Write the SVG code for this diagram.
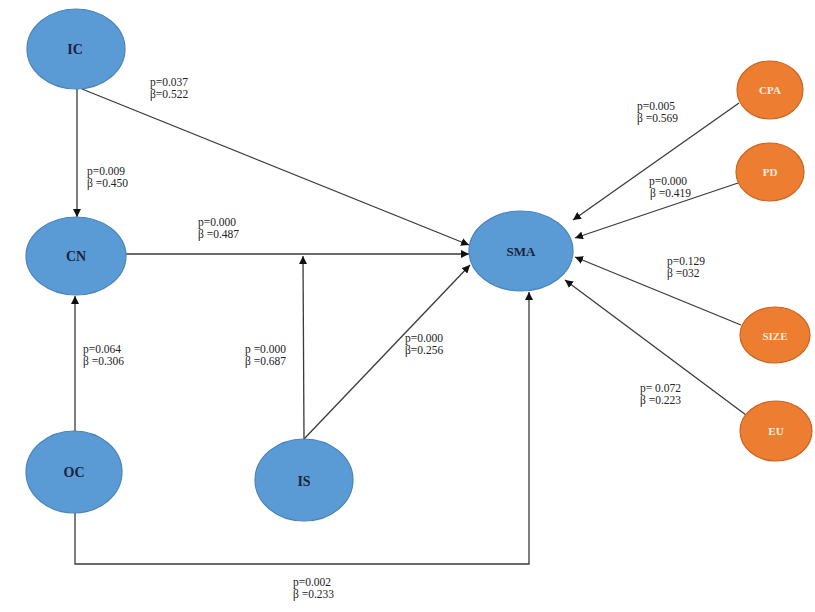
<svg xmlns="http://www.w3.org/2000/svg" width="815" height="612" viewBox="0 0 815 612">
<style>
.b{fill:#5B9BD5;stroke:#4A83B8;stroke-width:1.2}
.o{fill:#ED7D31;stroke:#C9651F;stroke-width:1.2}
.bl{font-family:"Liberation Serif",serif;font-size:14px;font-weight:bold;fill:#1a2340;text-anchor:middle;dominant-baseline:central}
.ol{font-family:"Liberation Serif",serif;font-size:11px;font-weight:bold;fill:#FCEBDD;text-anchor:middle;dominant-baseline:central}
.c{fill:none;stroke:#3a3a3a;stroke-width:1.3}
.t{font-family:"Liberation Serif",serif;font-size:11.5px;fill:#222}
</style>
<defs>
<marker id="a" viewBox="0 0 10 10" refX="10" refY="5" markerWidth="8" markerHeight="8" markerUnits="userSpaceOnUse" orient="auto">
<path d="M0,0 L10,5 L0,10 Z" fill="#111"/>
</marker>
</defs>
<g id="connectors">
<path class="c" d="M77,89 L77,217" marker-end="url(#a)"/>
<path class="c" d="M82,89 L469,245" marker-end="url(#a)"/>
<path class="c" d="M126,254 L469,254" marker-end="url(#a)"/>
<path class="c" d="M75,432 L75,296" marker-end="url(#a)"/>
<path class="c" d="M304,439 L303,256" marker-end="url(#a)"/>
<path class="c" d="M304,439 L470,265" marker-end="url(#a)"/>
<path class="c" d="M75,513 L75,564 L529,564 L529,292" marker-end="url(#a)"/>
<path class="c" d="M739,103 L573,220" marker-end="url(#a)"/>
<path class="c" d="M738,183 L575,238" marker-end="url(#a)"/>
<path class="c" d="M741,325 L575,257" marker-end="url(#a)"/>
<path class="c" d="M746,415 L565,280" marker-end="url(#a)"/>
</g>
<g id="labels">
<text class="t" x="150" y="86">p=0.037</text><text class="t" x="150" y="98">β=0.522</text>
<text class="t" x="87" y="175">p=0.009</text><text class="t" x="87" y="187">β =0.450</text>
<text class="t" x="198" y="226">p=0.000</text><text class="t" x="198" y="238">β =0.487</text>
<text class="t" x="83" y="353">p=0.064</text><text class="t" x="83" y="365">β =0.306</text>
<text class="t" x="245" y="353">p =0.000</text><text class="t" x="245" y="365">β =0.687</text>
<text class="t" x="405" y="342">p=0.000</text><text class="t" x="405" y="354">β=0.256</text>
<text class="t" x="637" y="110">p=0.005</text><text class="t" x="637" y="122">β =0.569</text>
<text class="t" x="649" y="185">p=0.000</text><text class="t" x="650" y="197">β =0.419</text>
<text class="t" x="667" y="265">p=0.129</text><text class="t" x="667" y="277">β =032</text>
<text class="t" x="640" y="392">p= 0.072</text><text class="t" x="640" y="404">β =0.223</text>
<text class="t" x="293" y="586">p=0.002</text><text class="t" x="293" y="598">β =0.233</text>
</g>
<g id="IC"><ellipse class="b" cx="76" cy="49" rx="49" ry="40"/><text class="bl" x="75" y="49">IC</text></g>
<g id="CN"><ellipse class="b" cx="76" cy="256" rx="50" ry="39"/><text class="bl" x="76" y="256">CN</text></g>
<g id="OC"><ellipse class="b" cx="74" cy="472" rx="48" ry="41"/><text class="bl" x="74" y="472">OC</text></g>
<g id="IS"><ellipse class="b" cx="304" cy="480" rx="49" ry="41"/><text class="bl" x="304" y="481">IS</text></g>
<g id="SMA"><ellipse class="b" cx="521" cy="251" rx="52" ry="40"/><text class="bl" x="521" y="251" style="font-size:13px">SMA</text></g>
<g id="CPA"><ellipse class="o" cx="770" cy="90" rx="33" ry="29"/><text class="ol" x="770" y="90">CPA</text></g>
<g id="PD"><ellipse class="o" cx="770" cy="172" rx="34" ry="29"/><text class="ol" x="770" y="172">PD</text></g>
<g id="SIZE"><ellipse class="o" cx="775" cy="335" rx="35" ry="28"/><text class="ol" x="775" y="336">SIZE</text></g>
<g id="EU"><ellipse class="o" cx="776" cy="431" rx="36" ry="30"/><text class="ol" x="776" y="431">EU</text></g>
</svg>
